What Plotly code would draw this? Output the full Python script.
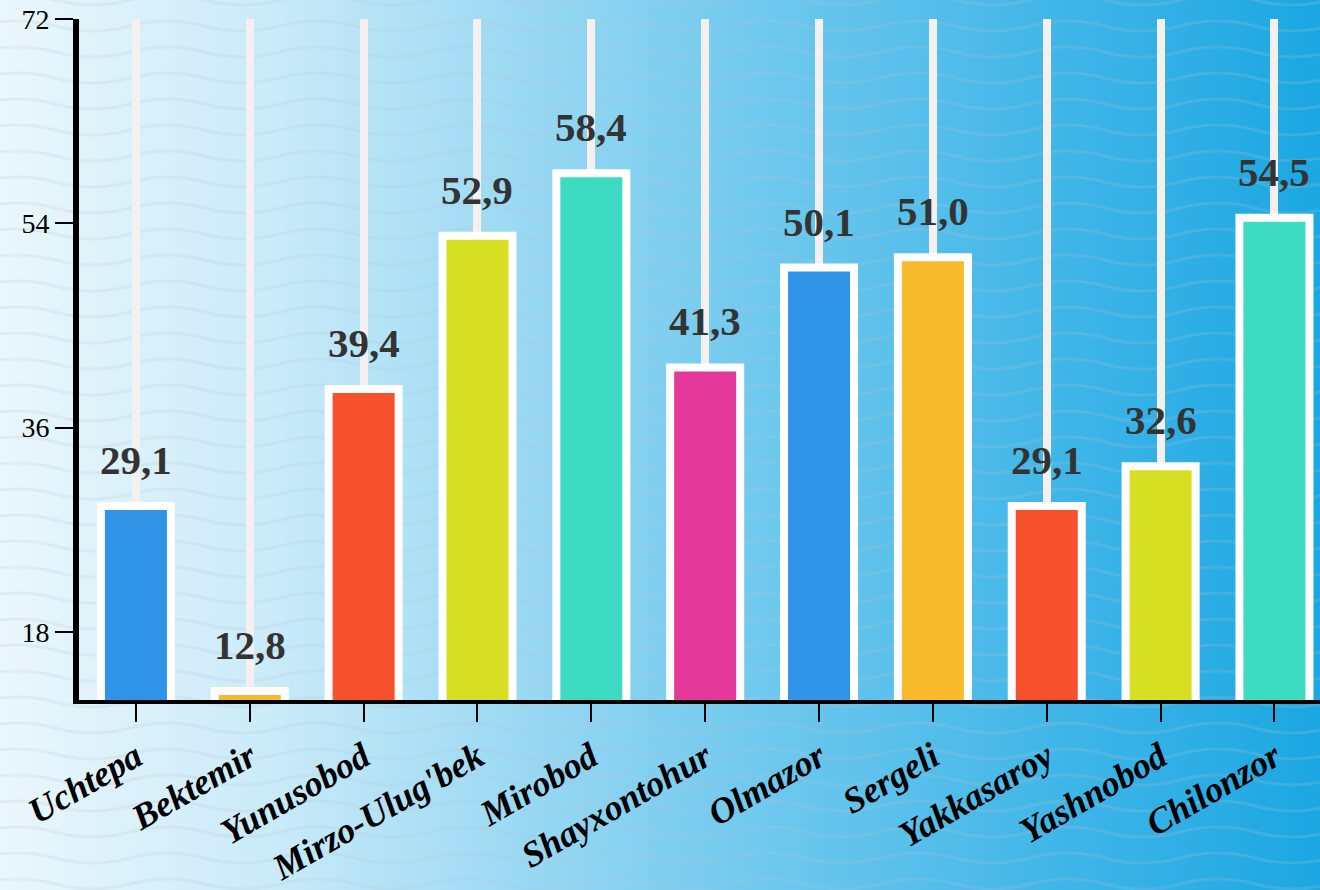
import base64
import plotly.graph_objects as go

# ---- data ----
districts = ["Uchtepa", "Bektemir", "Yunusobod", "Mirzo-Ulug'bek", "Mirobod",
             "Shayxontohur", "Olmazor", "Sergeli", "Yakkasaroy", "Yashnobod", "Chilonzor"]
values = [29.1, 12.8, 39.4, 52.9, 58.4, 41.3, 50.1, 51.0, 29.1, 32.6, 54.5]
palette = ["#3094E8", "#F7BA2B", "#F7502D", "#D6DF22", "#3DDBC1", "#E4389A"]
y_ticks = [18, 36, 54, 72]

bar_colors = [palette[i % len(palette)] for i in range(len(districts))]
labels = [f"{v:.1f}".replace(".", ",") for v in values]

# ---- background (gradient + waves) as SVG ----
W, H = 1320, 890
paths = []
wl, amp = 150, 5
for k in range(-2, 40):
    y = k * 26
    x = -20
    d = f"M {x} {y} Q {x + wl/4} {y - 2*amp} {x + wl/2} {y} "
    x += wl / 2
    while x < W + 40:
        x += wl / 2
        d += f"T {x} {y} "
    paths.append(f'<path d="{d}" fill="none" stroke="rgb(185,195,208)" stroke-opacity="0.2" stroke-width="3"/>')

svg = f'''<svg xmlns="http://www.w3.org/2000/svg" width="{W}" height="{H}" viewBox="0 0 {W} {H}">
<defs><linearGradient id="g" x1="0" y1="0" x2="1" y2="0">
<stop offset="0" stop-color="#EAF7FC"/>
<stop offset="0.2" stop-color="#CBEBF9"/>
<stop offset="0.5" stop-color="#80CFF0"/>
<stop offset="0.8" stop-color="#40B6E8"/>
<stop offset="1" stop-color="#1BA7E2"/>
</linearGradient></defs>
<rect width="{W}" height="{H}" fill="url(#g)"/>
{''.join(paths)}
</svg>'''
bg_src = "data:image/svg+xml;base64," + base64.b64encode(svg.encode()).decode()

ML, MT, MB, MR = 79, 19, 190, 0
PW = W - ML - MR
PH = H - MT - MB

serif = "Liberation Serif"

fig = go.Figure()
fig.add_trace(go.Bar(
    x=districts, y=values,
    marker=dict(color=bar_colors, line=dict(color="white", width=8)),
    width=0.615,
    hoverinfo="x+y",
))

for d, v, t in zip(districts, values, labels):
    fig.add_annotation(x=d, y=v, text=t, showarrow=False, yanchor="bottom",
                       yshift=21, font=dict(family=serif, size=41, color="#333333", weight="bold"))

fig.update_layout(
    width=W, height=H,
    margin=dict(l=ML, r=MR, t=MT, b=MB, pad=0, autoexpand=False),
    paper_bgcolor="#80CFF0",
    plot_bgcolor="rgba(0,0,0,0)",
    showlegend=False,
    images=[dict(source=bg_src, xref="paper", yref="paper",
                 x=-ML / PW, y=1 + MT / PH, sizex=W / PW, sizey=H / PH,
                 xanchor="left", yanchor="top", sizing="stretch", layer="below")],
    xaxis=dict(
        range=[-0.5, 10.4],
        automargin=False,
        showgrid=True, gridcolor="#F5F0F0", gridwidth=8,
        showline=True, linecolor="black", linewidth=4,
        ticks="outside", ticklen=18, tickwidth=2, tickcolor="black",
        tickangle=-30,
        tickfont=dict(family=serif, size=36, color="black", weight="bold", style="italic"),
        zeroline=False,
    ),
    yaxis=dict(
        range=[12, 72],
        automargin=False,
        tickvals=y_ticks,
        showgrid=False,
        showline=True, linecolor="black", linewidth=6,
        ticks="outside", ticklen=18, tickwidth=2, tickcolor="black",
        tickfont=dict(family=serif, size=28, color="black"),
        zeroline=False,
    ),
)

fig.write_html("out.html", config={"displayModeBar": False},
               post_script="document.body.style.margin='0';document.body.style.overflow='hidden';")
